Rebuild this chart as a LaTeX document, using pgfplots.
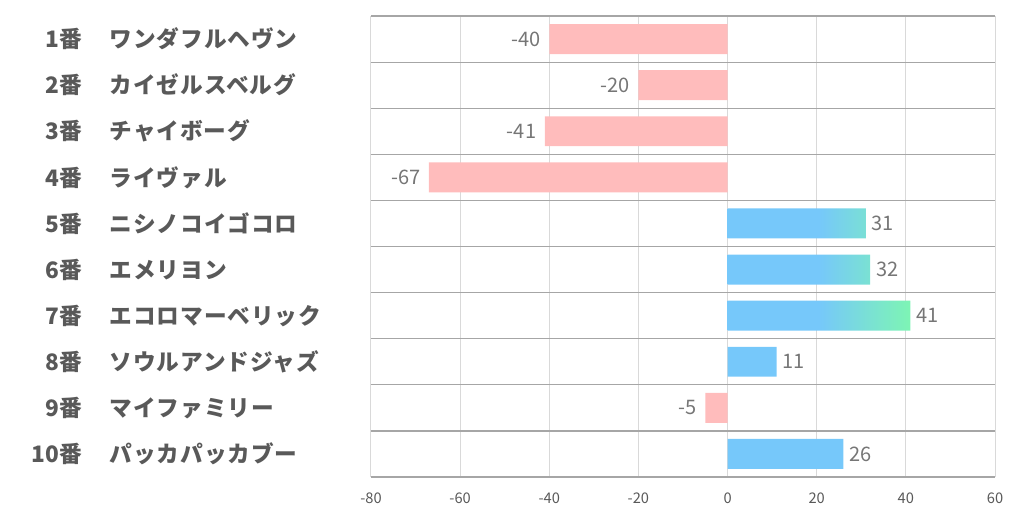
\documentclass[border=0pt]{standalone}
\usepackage{pgfplots}
\pgfplotsset{compat=1.18}
\usepackage{fontspec}
\setmainfont{Noto Sans CJK JP}
\definecolor{cpink}{RGB}{255,188,188}
\definecolor{cblue}{RGB}{118,200,250}
\definecolor{cgreen}{RGB}{125,245,180}
\definecolor{clabel}{RGB}{89,89,89}
\definecolor{cdata}{RGB}{118,118,118}
\definecolor{cgridv}{RGB}{217,217,217}
\definecolor{cgridh}{RGB}{166,166,166}
% category label: number right-aligned, name left-aligned
\newcommand\lab[2]{\makebox[40pt][r]{#1}\hspace{21pt}\makebox[195.75pt][l]{\addfontfeature{LetterSpace=4.0}#2}}
\begin{document}
\begin{tikzpicture}
\useasboundingbox (0,0) rectangle (766.5pt,391.5pt);
\begin{axis}[
  at={(278.25pt,33.75pt)}, anchor=south west,
  scale only axis, width=468pt, height=345.75pt,
  xmin=-80, xmax=60, ymin=0.5, ymax=10.5, y dir=reverse,
  xtick={-80,-60,...,60},
  ytick={1,...,10},
  yticklabels={
    \lab{1番}{ワンダフルヘヴン},
    \lab{2番}{カイゼルスベルグ},
    \lab{3番}{チャイボーグ},
    \lab{4番}{ライヴァル},
    \lab{5番}{ニシノコイゴコロ},
    \lab{6番}{エメリヨン},
    \lab{7番}{エコロマーベリック},
    \lab{8番}{ソウルアンドジャズ},
    \lab{9番}{マイファミリー},
    \lab{10番}{パッカパッカブー}},
  yticklabel style={anchor=east, inner sep=0pt, font=\bfseries\fontsize{17}{17}\selectfont, text=clabel},
  xticklabel style={font=\fontsize{11}{11}\selectfont, text=clabel, yshift=-8pt},
  /pgf/number format/assume math mode=true,
  axis line style={draw=none},
  major tick length=0pt,
  xmajorgrids, grid style={draw=cgridv, line width=0.75pt},
  extra y ticks={0.5,1.5,...,10.5}, extra y tick labels={},
  extra y tick style={ymajorgrids=true, major grid style={draw=cgridh, line width=0.9pt}},
  every node near coord/.append style={font=\fontsize{15}{15}\selectfont, text=cdata},
]
\addplot[xbar, bar width=0.65, bar shift=0pt, fill=cpink, draw=none,
  nodes near coords, point meta=x,
  every node near coord/.append style={anchor=east, xshift=-3pt}]
  coordinates {(-40,1) (-20,2) (-41,3) (-67,4) (-5,9)};
\addplot[xbar, bar width=0.65, bar shift=0pt, left color=cblue, right color=cgreen, middle color=cblue, draw=none,
  nodes near coords, point meta=x,
  every node near coord/.append style={anchor=west, xshift=1pt}]
  coordinates {(31,5) (32,6) (41,7)};
\addplot[xbar, bar width=0.65, bar shift=0pt, fill=cblue, draw=none,
  nodes near coords, point meta=x,
  every node near coord/.append style={anchor=west, xshift=1pt}]
  coordinates {(11,8) (26,10)};
\end{axis}
\end{tikzpicture}
\end{document}
